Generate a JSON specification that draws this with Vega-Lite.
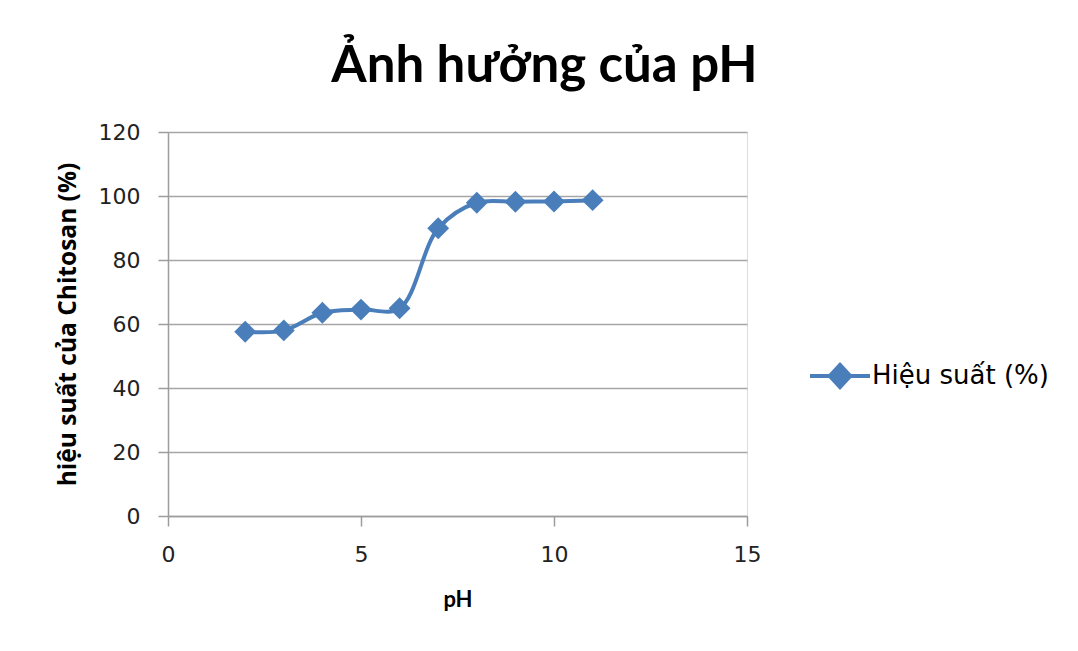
{
  "$schema": "https://vega.github.io/schema/vega-lite/v6.json",
  "autosize": "none",
  "width": 579,
  "height": 384,
  "padding": {"left": 168, "top": 132, "right": 331, "bottom": 135},
  "background": "white",
  "title": {
    "text": "Ảnh hưởng của pH",
    "font": "Lato",
    "fontSize": 51,
    "fontWeight": "bold",
    "color": "#000000",
    "anchor": "middle",
    "frame": "group",
    "baseline": "alphabetic",
    "dx": 87,
    "dy": 62,
    "offset": 50
  },
  "data": {
    "values": [
      {"pH": 2, "hieusuat": 57.6, "series": "Hiệu suất (%)"},
      {"pH": 3, "hieusuat": 58.0, "series": "Hiệu suất (%)"},
      {"pH": 4, "hieusuat": 63.5, "series": "Hiệu suất (%)"},
      {"pH": 5, "hieusuat": 64.5, "series": "Hiệu suất (%)"},
      {"pH": 6, "hieusuat": 64.9, "series": "Hiệu suất (%)"},
      {"pH": 7, "hieusuat": 89.9, "series": "Hiệu suất (%)"},
      {"pH": 8, "hieusuat": 97.9, "series": "Hiệu suất (%)"},
      {"pH": 9, "hieusuat": 98.2, "series": "Hiệu suất (%)"},
      {"pH": 10, "hieusuat": 98.3, "series": "Hiệu suất (%)"},
      {"pH": 11, "hieusuat": 98.7, "series": "Hiệu suất (%)"}
    ]
  },
  "encoding": {
    "x": {
      "field": "pH", "type": "quantitative",
      "scale": {"domain": [0, 15], "nice": false, "zero": true},
      "axis": {
        "values": [0, 5, 10, 15],
        "title": "pH",
        "titleFont": "Lato", "titleFontSize": 22, "titleFontWeight": "bold", "titleColor": "#000",
        "titlePadding": 24,
        "labelFont": "DejaVu Sans", "labelFontSize": 22, "labelColor": "#222", "labelPadding": 18,
        "labelFlush": false,
        "grid": false,
        "domainColor": "#9d9d9d", "domainWidth": 1.5,
        "tickColor": "#9d9d9d", "tickWidth": 1.5, "tickSize": 10
      }
    },
    "y": {
      "field": "hieusuat", "type": "quantitative",
      "scale": {"domain": [0, 120], "nice": false},
      "axis": {
        "values": [0, 20, 40, 60, 80, 100, 120],
        "title": "hiệu suất của Chitosan (%)",
        "titleFont": "Open Sans", "titleFontSize": 24.5, "titleFontWeight": "bold", "titleColor": "#000",
        "titlePadding": 18,
        "labelFont": "DejaVu Sans", "labelFontSize": 22, "labelColor": "#222", "labelPadding": 18,
        "labelFlush": false,
        "grid": true, "gridColor": "#a6a6a6", "gridWidth": 1.5,
        "domainColor": "#9d9d9d", "domainWidth": 1.5,
        "tickColor": "#9d9d9d", "tickWidth": 1.5, "tickSize": 10
      }
    },
    "color": {
      "field": "series", "type": "nominal",
      "scale": {"range": ["#4a7ebb"]},
      "legend": {
        "title": null,
        "orient": "none",
        "legendX": 640,
        "legendY": 212,
        "symbolType": "M-1,0L1,0M0,-0.37L0.34,0L0,0.37L-0.34,0Z",
        "symbolSize": 3600,
        "symbolStrokeWidth": 4,
        "labelFont": "DejaVu Sans",
        "labelFontSize": 26,
        "labelColor": "#000",
        "labelLimit": 400,
        "labelOffset": 0
      }
    }
  },
  "layer": [
    {
      "mark": {"type": "line", "interpolate": "catmull-rom", "strokeWidth": 4}
    },
    {
      "mark": {"type": "point", "shape": "diamond", "filled": true, "size": 480, "opacity": 1}
    }
  ]
}
